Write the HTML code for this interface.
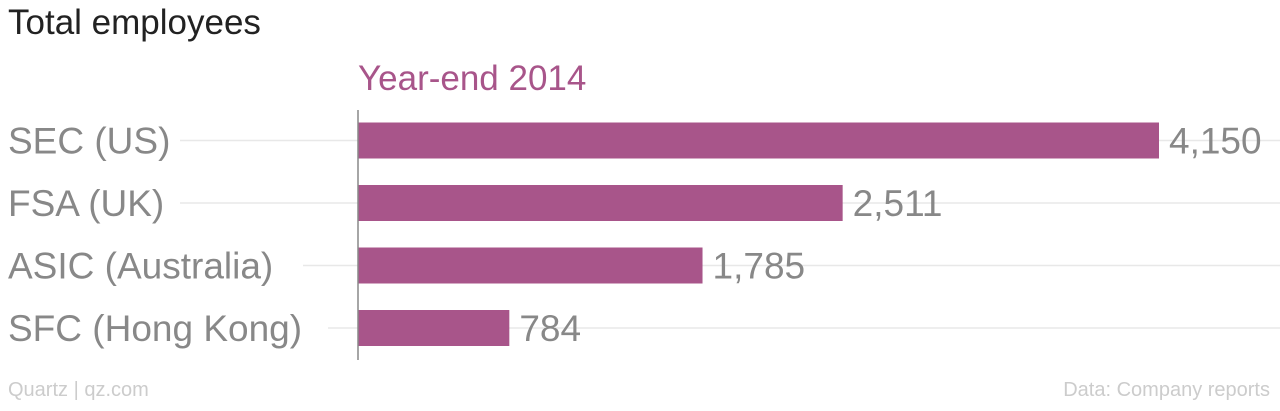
<!DOCTYPE html>
<html><head><meta charset="utf-8"><style>
body{margin:0;background:#fff;width:1280px;height:406px;overflow:hidden;font-family:"Liberation Sans",sans-serif;}
svg text{font-family:"Liberation Sans",sans-serif;}
</style></head><body>
<svg width="1280" height="406">
<text x="8" y="34" font-size="35" fill="#222">Total employees</text>
<text x="358" y="90" font-size="35" fill="#a8558a">Year-end 2014</text>
<g id="rows"></g>
<line x1="358" y1="110" x2="358" y2="360" stroke="#888" stroke-width="1.5"/>
<text x="8" y="396" font-size="20" fill="#ccc">Quartz | qz.com</text>
<text x="1270" y="396" font-size="20" fill="#ccc" text-anchor="end">Data: Company reports</text>
</svg>
<script>
const categories=["SEC (US)","FSA (UK)","ASIC (Australia)","SFC (Hong Kong)"];
const values=[4150,2511,1785,784];
const valueLabels=["4,150","2,511","1,785","784"];
const x0=358,xScale=v=>x0+v*(801/4150);
const yRow=i=>140.5+i*62.5;
const g=document.getElementById('rows');
const ns="http://www.w3.org/2000/svg";
const labelEnds=[180,180,303,328];
categories.forEach((c,i)=>{
  const y=yRow(i);
  const gl=document.createElementNS(ns,'line');
  
  
  gl.setAttribute('x1',labelEnds[i]);gl.setAttribute('x2',1280);gl.setAttribute('y1',y);gl.setAttribute('y2',y);
  gl.setAttribute('stroke','#e8e8e8');gl.setAttribute('stroke-width','1.5');g.appendChild(gl);
  const t=document.createElementNS(ns,'text');
  
  
  t.setAttribute('x',8);t.setAttribute('y',y+13);t.setAttribute('font-size','37');t.setAttribute('fill','#888');
  t.textContent=c;g.appendChild(t);
  const r=document.createElementNS(ns,'rect');
  
  
  r.setAttribute('x',x0);r.setAttribute('y',y-18);r.setAttribute('width',xScale(values[i])-x0);r.setAttribute('height',36);
  r.setAttribute('fill','#a8558a');g.appendChild(r);
  const v=document.createElementNS(ns,'text');
  
  
  v.setAttribute('x',xScale(values[i])+10);v.setAttribute('y',y+13);v.setAttribute('font-size','37');v.setAttribute('fill','#888');
  v.textContent=valueLabels[i];g.appendChild(v);
});
</script>
</body></html>
